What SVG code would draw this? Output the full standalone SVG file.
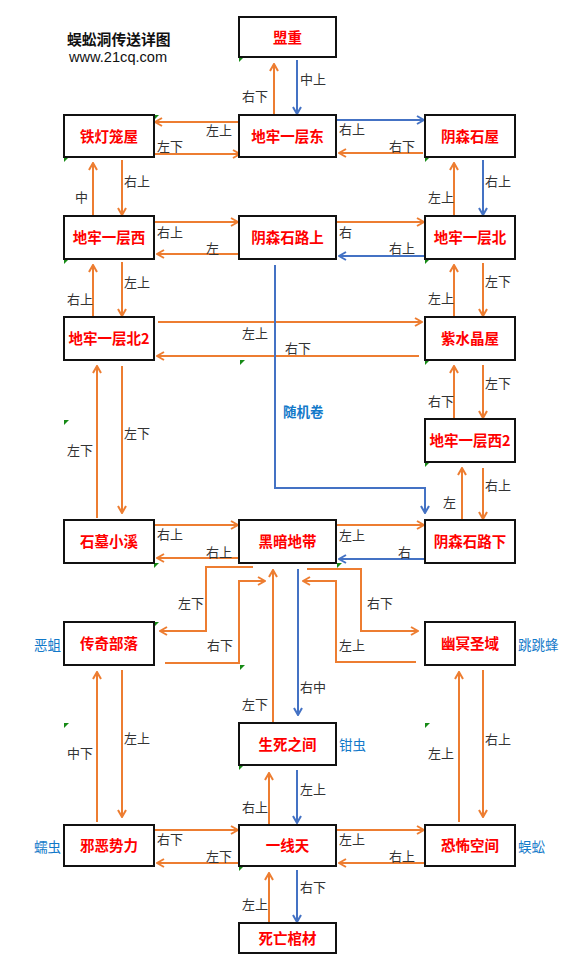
<svg xmlns="http://www.w3.org/2000/svg" width="580" height="971" viewBox="0 0 580 971">
<style>
.bg{fill:#ffffff}
.box{fill:#ffffff;stroke:#111111;stroke-width:2}
.nt{font-family:"Noto Sans CJK SC","Liberation Sans",sans-serif;font-size:14.5px;font-weight:bold;fill:#ff0000;text-anchor:middle}
.lb{font-family:"Noto Sans CJK SC","Liberation Sans",sans-serif;font-size:13px;fill:#333333}
.bl{font-family:"Noto Sans CJK SC","Liberation Sans",sans-serif;font-size:13.5px;fill:#1279C9}
.o{fill:none;stroke:#ED7D31;stroke-width:2;marker-end:url(#ao)}
.b{fill:none;stroke:#4472C4;stroke-width:2;marker-end:url(#ab)}
.g{fill:#168a16}
</style>
<defs>
<marker id="ao" viewBox="0 0 10 10" refX="9" refY="5" markerWidth="10" markerHeight="10" markerUnits="userSpaceOnUse" orient="auto"><path d="M2,1 L9,5 L2,9" fill="none" stroke="#ED7D31" stroke-width="2"/></marker>
<marker id="ab" viewBox="0 0 10 10" refX="9" refY="5" markerWidth="10" markerHeight="10" markerUnits="userSpaceOnUse" orient="auto"><path d="M2,1 L9,5 L2,9" fill="none" stroke="#4472C4" stroke-width="2"/></marker>
</defs>
<rect class="bg" x="0" y="0" width="580" height="971"/>
<g id="title">
<text x="67" y="44.5" font-family="'Noto Sans CJK SC',sans-serif" font-size="14.8" font-weight="bold" fill="#111">蜈蚣洞传送详图</text>
<text x="69" y="62" font-family="'Liberation Sans',sans-serif" font-size="14.6" fill="#111">www.21cq.com</text>
</g>
<g id="markers-green">
<polygon class="g" points="239,57 244,57 239,62"/>
<polygon class="g" points="154,115 159,115 154,120"/>
<polygon class="g" points="64,157 69,157 64,162"/>
<polygon class="g" points="425,157 430,157 425,162"/>
<polygon class="g" points="64,259 69,259 64,264"/>
<polygon class="g" points="425,259 430,259 425,264"/>
<polygon class="g" points="240,360 245,360 240,365"/>
<polygon class="g" points="425,360 430,360 425,365"/>
<polygon class="g" points="64,420 69,420 64,425"/>
<polygon class="g" points="425,462 430,462 425,467"/>
<polygon class="g" points="154,563 159,563 154,568"/>
<polygon class="g" points="337,563 342,563 337,568"/>
<polygon class="g" points="154,622 159,622 154,627"/>
<polygon class="g" points="240,665 245,665 240,670"/>
<polygon class="g" points="64,723 69,723 64,728"/>
<polygon class="g" points="425,723 430,723 425,728"/>
<polygon class="g" points="239,765 244,765 239,770"/>
<polygon class="g" points="239,866 244,866 239,871"/>
</g>
<g id="connectors">
<path class="o" d="M274,115 V64"/>
<path class="b" d="M297,60 V114"/>
<path class="o" d="M239,122 H155"/>
<path class="o" d="M154,154 H240"/>
<path class="b" d="M336,120 H424"/>
<path class="o" d="M423,153 H339"/>
<path class="o" d="M93,216 V163"/>
<path class="o" d="M122,160 V215"/>
<path class="o" d="M154,222 H238"/>
<path class="o" d="M239,254 H157"/>
<path class="o" d="M336,222 H424"/>
<path class="b" d="M425,256 H339"/>
<path class="o" d="M454,216 V163"/>
<path class="b" d="M483,160 V215"/>
<path class="o" d="M93,317 V265"/>
<path class="o" d="M122,262 V316"/>
<path class="o" d="M158,322 H422"/>
<path class="o" d="M419,356 H157"/>
<path class="b" d="M275,265 V488 H425 V513"/>
<path class="o" d="M454,317 V265"/>
<path class="o" d="M483,263 V316"/>
<path class="o" d="M454,419 V366"/>
<path class="o" d="M483,365 V418"/>
<path class="o" d="M462,520 V468"/>
<path class="o" d="M483,468 V519"/>
<path class="o" d="M97,518 V366"/>
<path class="o" d="M122,366 V513"/>
<path class="o" d="M154,525 H238"/>
<path class="o" d="M239,558 H157"/>
<path class="o" d="M336,525 H424"/>
<path class="b" d="M425,559 H339"/>
<path class="o" d="M253,567 H206 V631 H160"/>
<path class="o" d="M165,663 H239 V581 H265"/>
<path class="o" d="M273,723 V570"/>
<path class="b" d="M298,569 V715"/>
<path class="o" d="M307,569 H361 V631 H418"/>
<path class="o" d="M416,662 H336 V581 H303"/>
<path class="o" d="M97,822 V672"/>
<path class="o" d="M122,670 V817"/>
<path class="o" d="M459,822 V672"/>
<path class="o" d="M483,670 V817"/>
<path class="o" d="M269,825 V773"/>
<path class="b" d="M297,770 V823"/>
<path class="o" d="M154,830 H238"/>
<path class="o" d="M239,863 H157"/>
<path class="o" d="M336,830 H424"/>
<path class="o" d="M425,863 H339"/>
<path class="o" d="M269,923 V873"/>
<path class="b" d="M297,870 V922"/>
</g>
<g id="connector-labels">
<text class="lb" x="242" y="101">右下</text>
<text class="lb" x="300" y="84">中上</text>
<text class="lb" x="206" y="135">左上</text>
<text class="lb" x="157" y="151">左下</text>
<text class="lb" x="339" y="134">右上</text>
<text class="lb" x="389" y="151">右下</text>
<text class="lb" x="75" y="202">中</text>
<text class="lb" x="124" y="186">右上</text>
<text class="lb" x="157" y="237">右上</text>
<text class="lb" x="206" y="253">左</text>
<text class="lb" x="339" y="237">右</text>
<text class="lb" x="389" y="253">右上</text>
<text class="lb" x="428" y="202">左上</text>
<text class="lb" x="485" y="186">右上</text>
<text class="lb" x="67" y="304">右上</text>
<text class="lb" x="124" y="287">左上</text>
<text class="lb" x="242" y="338">左上</text>
<text class="lb" x="285" y="353">右下</text>
<text class="lb" x="428" y="303">左上</text>
<text class="lb" x="485" y="286">左下</text>
<text class="lb" x="428" y="406">右下</text>
<text class="lb" x="485" y="388">左下</text>
<text class="lb" x="443" y="507">左</text>
<text class="lb" x="485" y="490">右上</text>
<text class="lb" x="67" y="455">左下</text>
<text class="lb" x="124" y="438">左下</text>
<text class="lb" x="157" y="539">右上</text>
<text class="lb" x="206" y="557">右上</text>
<text class="lb" x="339" y="540">左上</text>
<text class="lb" x="398" y="557">右</text>
<text class="lb" x="178" y="608">左下</text>
<text class="lb" x="207" y="650">右下</text>
<text class="lb" x="242" y="709">左下</text>
<text class="lb" x="300" y="692">右中</text>
<text class="lb" x="367" y="608">右下</text>
<text class="lb" x="339" y="650">左上</text>
<text class="lb" x="67" y="758">中下</text>
<text class="lb" x="124" y="743">左上</text>
<text class="lb" x="428" y="758">左上</text>
<text class="lb" x="485" y="744">右上</text>
<text class="lb" x="242" y="812">右上</text>
<text class="lb" x="300" y="794">左上</text>
<text class="lb" x="157" y="844">右下</text>
<text class="lb" x="206" y="861">左下</text>
<text class="lb" x="339" y="844">左上</text>
<text class="lb" x="389" y="861">右上</text>
<text class="lb" x="242" y="909">左上</text>
<text class="lb" x="300" y="892">右下</text>
<text class="bl" x="283" y="417" font-weight="bold" fill="#0066BB">随机卷</text>
</g>
<g id="n-mengzhong"><rect class="box" x="239" y="17" width="97" height="40"/><text class="nt" x="287.5" y="42.5">盟重</text></g>
<g id="n-tiedenglongwu"><rect class="box" x="64" y="115" width="90" height="42"/><text class="nt" x="109" y="141.5">铁灯笼屋</text></g>
<g id="n-dilao1-dong"><rect class="box" x="239" y="115" width="97" height="42"/><text class="nt" x="287.5" y="141.5">地牢一层东</text></g>
<g id="n-yinsenshiwu"><rect class="box" x="425" y="115" width="90" height="42"/><text class="nt" x="470" y="141.5">阴森石屋</text></g>
<g id="n-dilao1-xi"><rect class="box" x="64" y="216" width="90" height="43"/><text class="nt" x="109" y="243">地牢一层西</text></g>
<g id="n-yinsenshilu-shang"><rect class="box" x="239" y="216" width="97" height="43"/><text class="nt" x="287.5" y="243">阴森石路上</text></g>
<g id="n-dilao1-bei"><rect class="box" x="425" y="216" width="90" height="43"/><text class="nt" x="470" y="243">地牢一层北</text></g>
<g id="n-dilao1-bei2"><rect class="box" x="64" y="317" width="90" height="43"/><text class="nt" x="109" y="344">地牢一层北2</text></g>
<g id="n-zishuijingwu"><rect class="box" x="425" y="317" width="90" height="43"/><text class="nt" x="470" y="344">紫水晶屋</text></g>
<g id="n-dilao1-xi2"><rect class="box" x="425" y="419" width="90" height="43"/><text class="nt" x="470" y="446">地牢一层西2</text></g>
<g id="n-shimuxiaoxi"><rect class="box" x="64" y="520" width="90" height="43"/><text class="nt" x="109" y="547">石墓小溪</text></g>
<g id="n-heiandidai"><rect class="box" x="239" y="520" width="97" height="43"/><text class="nt" x="287.5" y="547">黑暗地带</text></g>
<g id="n-yinsenshilu-xia"><rect class="box" x="425" y="520" width="90" height="43"/><text class="nt" x="470" y="547">阴森石路下</text></g>
<g id="n-chuanqibuluo"><rect class="box" x="64" y="622" width="90" height="43"/><text class="nt" x="109" y="649">传奇部落</text><text class="bl" x="34" y="650">恶蛆</text></g>
<g id="n-youmingshengyu"><rect class="box" x="425" y="622" width="90" height="43"/><text class="nt" x="470" y="649">幽冥圣域</text><text class="bl" x="518" y="650">跳跳蜂</text></g>
<g id="n-shengsizhijian"><rect class="box" x="239" y="723" width="97" height="42"/><text class="nt" x="287.5" y="749.5">生死之间</text><text class="bl" x="339" y="750">钳虫</text></g>
<g id="n-xieeshili"><rect class="box" x="64" y="825" width="90" height="41"/><text class="nt" x="109" y="851">邪恶势力</text><text class="bl" x="34" y="852">蠕虫</text></g>
<g id="n-yixiantian"><rect class="box" x="239" y="825" width="97" height="41"/><text class="nt" x="287.5" y="851">一线天</text></g>
<g id="n-kongbukongjian"><rect class="box" x="425" y="825" width="90" height="41"/><text class="nt" x="470" y="851">恐怖空间</text><text class="bl" x="518" y="852">蜈蚣</text></g>
<g id="n-siwangguancai"><rect class="box" x="239" y="923" width="97" height="30"/><text class="nt" x="287.5" y="943.5">死亡棺材</text></g>
</svg>
